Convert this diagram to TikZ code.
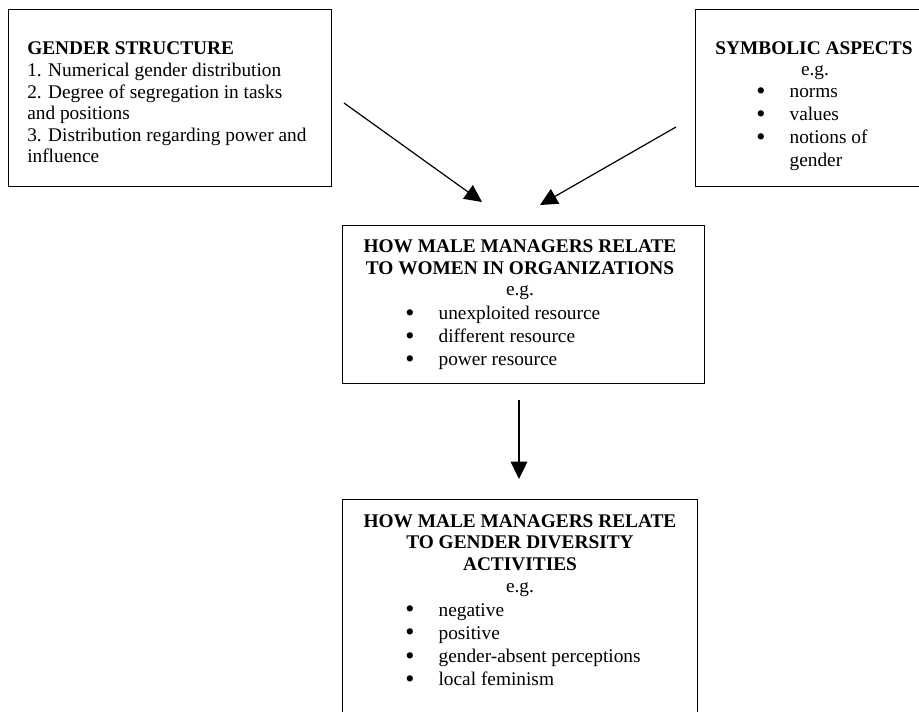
\documentclass[tikz,border=0pt]{standalone}
\usepackage{fontspec}
\usepackage{graphicx}
\setmainfont{Liberation Serif}
\usetikzlibrary{arrows.meta}
\tikzset{
  panel/.style={draw, line width=1pt, inner sep=0pt, anchor=north west},
  txt/.style={inner sep=0pt, anchor=base, font=\fontsize{14.5}{16.35}\selectfont},
  flow/.style={line width=0.9pt, -{Triangle[length=13pt, width=12.5pt]}}
}
% top-aligned stack of lines, so that a node's base is its first baseline
\newcommand{\txtblock}[3][1]{{\renewcommand{\arraystretch}{#1}\setlength{\tabcolsep}{0pt}%
  \begin{tabular}[t]{#2}#3\end{tabular}}}
\newcommand{\bmark}{\smash{\raisebox{-0.07em}{\scalebox{1.35}{\textbullet}}}}
\newcommand{\bitem}[1]{\makebox[25pt][l]{\bmark}#1}
\begin{document}
\begin{tikzpicture}[x=0.75pt, y=-0.75pt]
  \useasboundingbox (0,0) rectangle (919,712);
  % frames
  \node[panel, minimum width=323*0.75pt, minimum height=177*0.75pt] (gs) at (8,9) {};
  \node[panel, minimum width=240*0.75pt, minimum height=177*0.75pt] (sa) at (695,9) {};
  \node[panel, minimum width=362*0.75pt, minimum height=158*0.75pt] (mw) at (342,225) {};
  \node[panel, minimum width=355*0.75pt, minimum height=240*0.75pt] (md) at (342,499) {};
  % gender structure
  \node[txt, anchor=base west] (gst) at (27,55)
    {\txtblock[0.988]{l}{\textbf{GENDER STRUCTURE}\\
     1. Numerical gender distribution\\
     2. Degree of segregation in tasks\\
     and positions\\
     3. Distribution regarding power and\\
     influence}};
  % symbolic aspects
  \node[txt] (sat) at (814,55) {\textbf{SYMBOLIC ASPECTS}};
  \node[txt] (sae) at (815,76) {e.g.};
  \node[txt, anchor=base west] (sal) at (756,98)
    {\txtblock[1.055]{l}{\bitem{norms}\\ \bitem{values}\\ \bitem{notions of}\\ \hspace*{25pt}gender}};
  % relation to women
  \node[txt] (mwt) at (520,253)
    {\txtblock[1.0]{c}{\textbf{HOW MALE MANAGERS RELATE}\\ \textbf{TO WOMEN IN ORGANIZATIONS}}};
  \node[txt] (mwe) at (520,296) {e.g.};
  \node[txt, anchor=base west] (mwl) at (405,320)
    {\txtblock[1.055]{l}{\bitem{unexploited resource}\\ \bitem{different resource}\\ \bitem{power resource}}};
  % relation to diversity activities
  \node[txt] (mdt) at (520,527)
    {\txtblock[0.988]{c}{\textbf{HOW MALE MANAGERS RELATE}\\ \textbf{TO GENDER DIVERSITY}\\ \textbf{ACTIVITIES}}};
  \node[txt] (mde) at (520,592) {e.g.};
  \node[txt, anchor=base west] (mdl) at (405,616)
    {\txtblock[1.07]{l}{\bitem{negative}\\ \bitem{positive}\\ \bitem{gender-absent perceptions}\\ \bitem{local feminism}}};
  % arrows
  \coordinate (a1s) at (344,103);
  \coordinate (a1e) at (482,202);
  \coordinate (a2s) at (676,127);
  \coordinate (a2e) at (540,205);
  \coordinate (a3s) at (519,400);
  \coordinate (a3e) at (519,479);
  \draw[flow] (a1s) -- (a1e);
  \draw[flow] (a2s) -- (a2e);
  \draw[flow] (a3s) -- (a3e);
\end{tikzpicture}
\end{document}
